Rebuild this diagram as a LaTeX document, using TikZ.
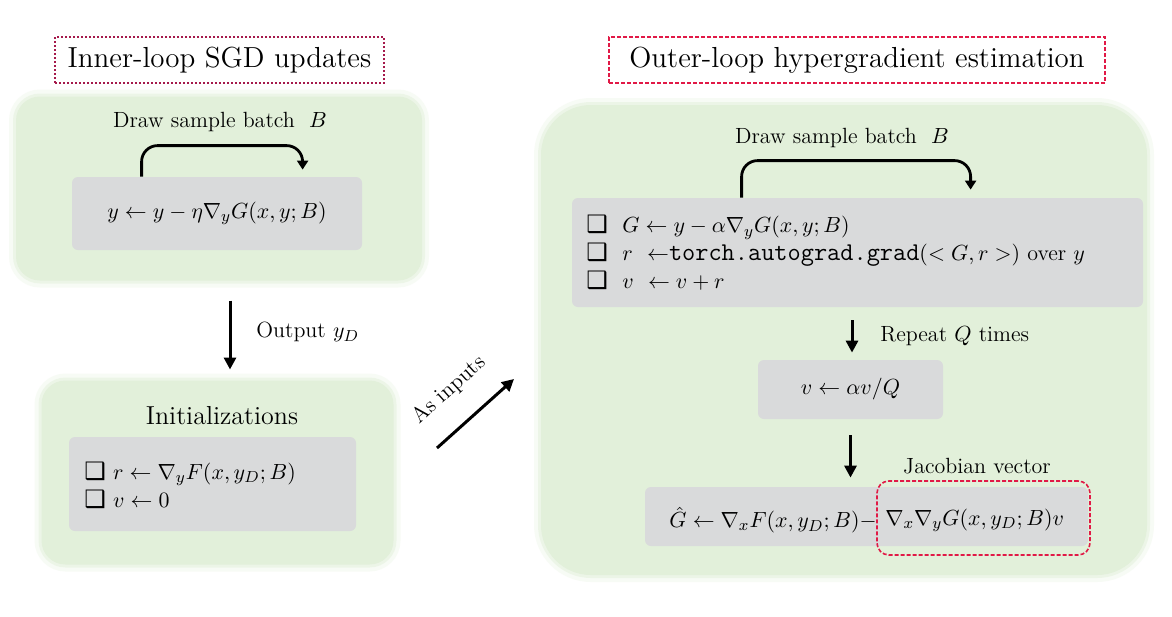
\documentclass[tikz,border=0pt]{standalone}
\usepackage{fontspec}
\newfontfamily\dejavu{DejaVu Sans}
\usetikzlibrary{arrows.meta,calc}
\definecolor{gfill}{RGB}{226,240,218}
\definecolor{gbox}{RGB}{217,218,219}
\definecolor{maroonline}{RGB}{165,25,75}
\definecolor{crimsonline}{RGB}{225,25,70}
\newcommand{\chk}{{\dejavu\fontsize{12}{12}\selectfont ❑}}
\begin{document}
\begin{tikzpicture}[x=0.5pt,y=-0.5pt,
  greenbox/.style={fill=gfill, rounded corners=12pt, draw=gfill, line width=3pt, draw opacity=0.5,
     preaction={draw=gfill, line width=7pt, draw opacity=0.25}, inner sep=0pt},
  graybox/.style={fill=gbox, rounded corners=3pt, inner sep=0pt, font=\fontsize{11}{13}\selectfont},
  lbl/.style={font=\fontsize{11}{13}\selectfont, inner sep=1pt},
  titlebox/.style={line width=1pt, inner sep=0pt, font=\fontsize{14.5}{16}\selectfont},
  arr/.style={line width=1.5pt, -{Triangle[length=6pt,width=6pt]}},
  bendarr/.style={line width=1.4pt, rounded corners=8pt, -{Triangle[length=4.5pt,width=5.5pt]}},
  items/.style={anchor=west, align=left, inner sep=0pt, font=\fontsize{11}{14}\selectfont}
]
\useasboundingbox (0,0) rectangle (1172,616);
\fill[white] (0,0) rectangle (1172,616);

% titles
\node[titlebox, draw=maroonline, dash pattern=on 1pt off 1pt, minimum width=164.5pt, minimum height=23pt] (T1) at (219.5,60) {Inner-loop SGD updates};
\node[titlebox, draw=crimsonline, dash pattern=on 2pt off 1pt, minimum width=248pt, minimum height=23pt] (T2) at (857,60) {Outer-loop hypergradient estimation};

% left top
\node[greenbox, minimum width=203pt, minimum height=92pt] (L1) at (219,188.5) {};
\node[graybox, minimum width=145pt, minimum height=36.5pt] (G1) at (217,213.5) {$y \leftarrow y - \eta\nabla_y G(x,y;B)$};
\node[lbl] (D1) at (220,122) {Draw sample batch~ $B$};
\draw[bendarr] ($(G1.north west)+(70,0)$) |- ($(G1.north west)+(231,-31)$) -- ($(G1.north west)+(231,-7)$);

% left bottom
\node[greenbox, minimum width=176pt, minimum height=92pt] (L2) at (217.5,472.5) {};
\node[font=\fontsize{13}{15}\selectfont] (I) at (222,416) {Initializations};
\node[graybox, minimum width=143.5pt, minimum height=47pt] (G2) at (212.5,484) {};
\node[items] (G2t) at (84,485) {\chk\ $r \leftarrow \nabla_y F(x,y_D;B)$\\ \chk\ $v \leftarrow 0$};

% output arrow
\draw[arr] ($(L1.south)+(11,17)$) -- ($(L2.north)+(12.5,-8)$);
\node[lbl, anchor=west] (O) at (254,332) {Output $y_D$};

% as inputs
\coordinate (a1) at (437,448);
\coordinate (a2) at (514,379);
\draw[arr] (a1) -- (a2);
\node[lbl, rotate=42] (AI) at (449,390) {As inputs};

% right
\node[greenbox, rounded corners=25pt, minimum width=303pt, minimum height=235pt] (R) at (844,340) {};
\node[lbl] (D2) at (842,138) {Draw sample batch~ $B$};
\node[graybox, minimum width=285.5pt, minimum height=54.5pt] (G3) at (857.5,252.5) {};
\draw[bendarr] ($(G3.north west)+(170,0)$) |- ($(G3.north west)+(399,-37)$) -- ($(G3.north west)+(399,-8)$);
\node[items] (G3t) at (586,253) {\chk\ \ $G\leftarrow y-\alpha\nabla_yG(x,y;B)$\\ \chk\ \ $r$\ \ $\leftarrow${\fontsize{12.8}{14}\selectfont\texttt{torch.autograd.grad}}$(<G,r>)$ over $y$\\ \chk\ \ $v$\ \ $\leftarrow v + r$};

\node[graybox, minimum width=92.5pt, minimum height=29.5pt] (G4) at (850.5,389.5) {$v \leftarrow \alpha v/Q$};
\node[graybox, minimum width=221.5pt, minimum height=29.5pt] (G5) at (866.5,516.5) {};
\draw[arr] ($(G3.south)+(-5.5,13)$) -- ($(G4.north)+(1.5,-7)$);
\node[lbl, anchor=west] (RQ) at (878,336) {Repeat $Q$ times};
\draw[arr] ($(G4.south)+(0,16)$) -- ($(G5.north)+(-16,-9)$);
\node[lbl] (JV) at (977,466) {Jacobian vector};
\node[graybox, fill=none, anchor=east, font=\fontsize{10.8}{13}\selectfont] (F1) at (877,520) {$\hat G \leftarrow \nabla_x F(x,y_D;B) -$};
\node[graybox, fill=none, anchor=west, font=\fontsize{10.8}{13}\selectfont] (F2) at (885,520) {$\nabla_x\nabla_y G(x,y_D;B)v$};
\node[draw=crimsonline, dash pattern=on 2pt off 1pt, line width=0.8pt, rounded corners=6pt, minimum width=106.5pt, minimum height=37pt] (J) at (983.5,518) {};
\end{tikzpicture}
\end{document}
